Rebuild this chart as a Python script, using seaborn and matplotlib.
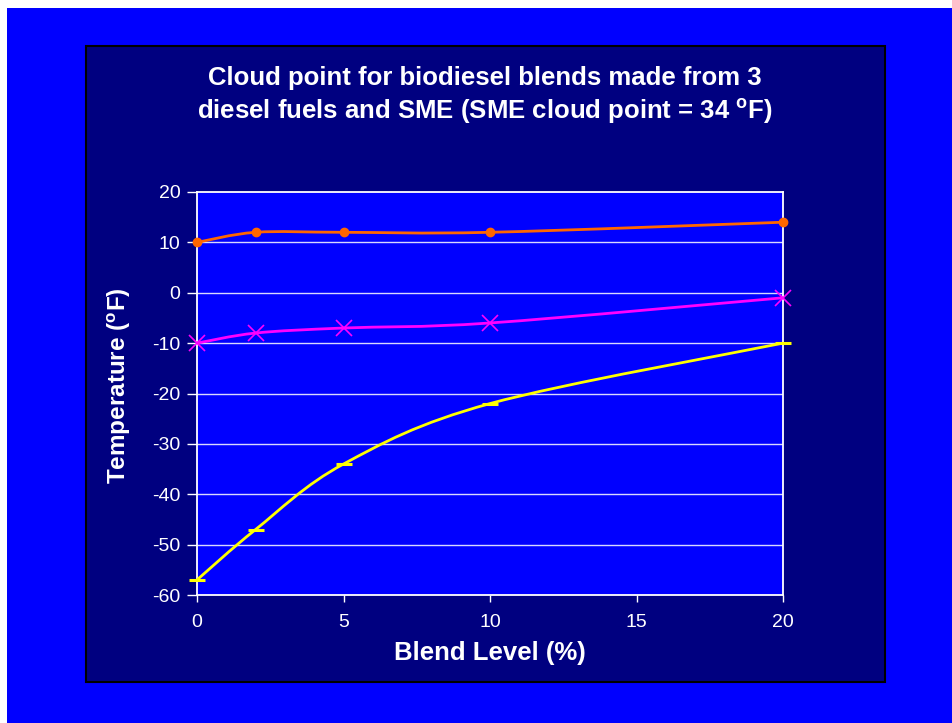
import numpy as np
import pandas as pd
import matplotlib
matplotlib.use("Agg")
import matplotlib.pyplot as plt
from matplotlib.path import Path
from matplotlib.patches import PathPatch, Rectangle
import seaborn as sns

# Data
blend = [0, 2, 5, 10, 20]
fuel_a = [10, 12, 12, 12, 14]      # orange, dots
fuel_b = [-10, -8, -7, -6, -1]     # magenta, crosses
fuel_c = [-57, -47, -34, -22, -10] # yellow, dashes

x_ticks = [0, 5, 10, 15, 20]
y_ticks = [-60, -50, -40, -30, -20, -10, 0, 10, 20]

sns.set_theme(style="white")
plt.rcParams["font.family"] = ["Liberation Sans", "DejaVu Sans"]
plt.rcParams["mathtext.fontset"] = "custom"
plt.rcParams["mathtext.rm"] = "Liberation Sans"
plt.rcParams["mathtext.bf"] = "Liberation Sans:bold"

W, H = 952, 723
fig = plt.figure(figsize=(W / 100, H / 100), dpi=100, facecolor="white")

# slide background and navy chart frame
fig.patches.append(Rectangle((7 / W, 0), 1, 1 - 8 / H, transform=fig.transFigure,
                             facecolor="#0000FF", edgecolor="none", zorder=-3))
fig.patches.append(Rectangle((86 / W, 1 - 682 / H), 799 / W, 636 / H,
                             transform=fig.transFigure, facecolor="#000080",
                             edgecolor="black", linewidth=1.5, zorder=-2))

ax = fig.add_axes([197 / W, 1 - 595 / H, 586 / W, 403 / H])
ax.set_facecolor("#0000FF")


def smooth_path(xs, ys):
    # Excel-like smoothed line: Catmull-Rom segments as cubic Beziers
    pts = np.column_stack([xs, ys]).astype(float)
    n = len(pts)
    verts = [pts[0]]
    codes = [Path.MOVETO]
    for i in range(n - 1):
        p0 = pts[max(i - 1, 0)]
        p1 = pts[i]
        p2 = pts[i + 1]
        p3 = pts[min(i + 2, n - 1)]
        c1 = p1 + (p2 - p0) / 6
        c2 = p2 - (p3 - p1) / 6
        verts += [c1, c2, p2]
        codes += [Path.CURVE4] * 3
    return Path(verts, codes)


series = [
    (fuel_a, "#FF6600", "o", 6, 1.0),
    (fuel_b, "#FF00FF", "x", 11, 1.2),
    (fuel_c, "#FFFF00", "_", 11, 2.2),
]

for vals, col, mk, ms, mew in series:
    ax.add_patch(PathPatch(smooth_path(blend, vals), facecolor="none",
                           edgecolor=col, linewidth=2, clip_on=False, zorder=3))
    df = pd.DataFrame({"Blend": blend, "Temp": vals})
    sns.lineplot(data=df, x="Blend", y="Temp", ax=ax, color=col, linewidth=0,
                 marker=mk, markersize=ms, markeredgewidth=mew,
                 markeredgecolor=col, markerfacecolor=col, clip_on=False, zorder=4)

ax.set_xlim(0, 20)
ax.set_ylim(-60, 20)
ax.set_xticks(x_ticks)
ax.set_yticks(y_ticks)
ax.set_xticklabels([str(v) for v in x_ticks])
ax.set_yticklabels([str(v) for v in y_ticks])

for y in y_ticks[1:-1]:
    ax.axhline(y, color="#D8D8FF", linewidth=1, zorder=1)

for s in ax.spines.values():
    s.set_color("white")
    s.set_linewidth(1.3)

ax.tick_params(axis="both", colors="white", labelcolor="white", labelsize=14,
               direction="out", width=1, left=True, bottom=True)
ax.tick_params(axis="y", length=7, pad=5)
ax.tick_params(axis="x", length=5, pad=9)

ax.set_xlabel("Blend Level (%)", color="white", fontsize=18.5, fontweight="bold",
              labelpad=7)
ax.set_ylabel(r"Temperature ($^{\mathbf{o}}$F)", color="white", fontsize=17.5,
              fontweight="bold", labelpad=9)
ax.yaxis.set_label_coords(-0.11, 0.52)

fig.text(485 / W, 1 - 78 / H, "Cloud point for biodiesel blends made from 3",
         color="white", fontsize=18.5, fontweight="bold", ha="center", va="center")
fig.text(485 / W, 1 - 111 / H,
         r"diesel fuels and SME (SME cloud point = 34 $^{\mathbf{o}}$F)",
         color="white", fontsize=18.5, fontweight="bold", ha="center", va="center")

fig.savefig("out.png", dpi=100, facecolor=fig.get_facecolor())
